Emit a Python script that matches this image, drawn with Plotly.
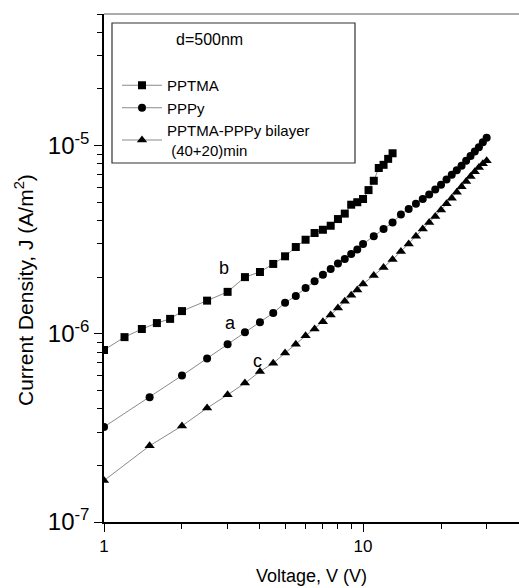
import plotly.graph_objects as go

FONT = "Liberation Sans, Arial, sans-serif"

# PPTMA (squares, curve b)
v_pptma = [1, 1.2, 1.4, 1.6, 1.8, 2.0, 2.5, 3.0, 3.5, 4.0, 4.5, 5.0, 5.5, 6.0, 6.5, 7.0,
           7.5, 8.0, 8.5, 9.0, 9.5, 10, 10.5, 11, 11.5, 12, 12.5, 13]
j_pptma = [0.82e-6, 0.96e-6, 1.06e-6, 1.14e-6, 1.20e-6, 1.32e-6, 1.50e-6, 1.67e-6, 2.00e-6,
           2.13e-6, 2.35e-6, 2.58e-6, 2.89e-6, 3.16e-6, 3.43e-6, 3.57e-6, 3.75e-6, 4.07e-6,
           4.35e-6, 4.85e-6, 5.00e-6, 5.20e-6, 5.80e-6, 6.50e-6, 7.60e-6, 7.90e-6, 8.50e-6, 9.10e-6]

# PPPy (circles, curve a)
v_pppy = [1, 1.5, 2, 2.5, 3, 3.5, 4, 4.5, 5, 5.5, 6, 6.5, 7, 7.5, 8, 8.5, 9, 9.5, 10,
          11, 12, 13, 14, 15, 16, 17, 18, 19, 20, 21, 22, 23, 24, 25, 26, 27, 28, 29, 30]
j_pppy = [0.32e-6, 0.46e-6, 0.60e-6, 0.74e-6, 0.88e-6, 1.02e-6, 1.15e-6, 1.29e-6, 1.46e-6,
          1.59e-6, 1.75e-6, 1.90e-6, 2.06e-6, 2.21e-6, 2.36e-6, 2.50e-6, 2.65e-6, 2.80e-6,
          3.00e-6, 3.30e-6, 3.60e-6, 3.90e-6, 4.30e-6, 4.60e-6, 4.90e-6, 5.20e-6, 5.50e-6,
          5.85e-6, 6.20e-6, 6.60e-6, 7.00e-6, 7.40e-6, 7.80e-6, 8.30e-6, 8.80e-6, 9.30e-6,
          9.80e-6, 10.4e-6, 11.0e-6]

# PPTMA-PPPy bilayer (triangles, curve c)
v_bi = [1, 1.5, 2, 2.5, 3, 3.5, 4, 4.5, 5, 5.5, 6, 6.5, 7, 7.5, 8, 8.5, 9, 9.5, 10,
        11, 12, 13, 14, 15, 16, 17, 18, 19, 20, 21, 22, 23, 24, 25, 26, 27, 28, 29, 30]
j_bi = [0.166e-6, 0.254e-6, 0.324e-6, 0.403e-6, 0.474e-6, 0.547e-6, 0.630e-6, 0.698e-6,
        0.79e-6, 0.88e-6, 0.976e-6, 1.06e-6, 1.16e-6, 1.26e-6, 1.37e-6, 1.49e-6, 1.60e-6,
        1.71e-6, 1.84e-6, 2.04e-6, 2.25e-6, 2.48e-6, 2.74e-6, 3.00e-6, 3.30e-6, 3.60e-6,
        3.90e-6, 4.20e-6, 4.55e-6, 4.90e-6, 5.25e-6, 5.65e-6, 6.05e-6, 6.45e-6, 6.85e-6,
        7.25e-6, 7.65e-6, 8.00e-6, 8.30e-6]

series_names = ["PPTMA", "PPPy", "PPTMA-PPPy bilayer<br> (40+20)min"]
x_ticks = [1, 10]
x_ticktext = ["1", "10"]
y_ticks = [1e-7, 1e-6, 1e-5]
y_ticktext = ["10<sup>-7</sup>", "10<sup>-6</sup>", "10<sup>-5</sup>"]

fig = go.Figure()
specs = [(v_pptma, j_pptma, "square", 8), (v_pppy, j_pppy, "circle", 8), (v_bi, j_bi, "triangle-up", 9)]
for (xs, ys, sym, sz), nm in zip(specs, series_names):
    fig.add_trace(go.Scatter(
        x=xs, y=ys, name=nm, mode="lines+markers",
        line=dict(color="#8a8a8a", width=1),
        marker=dict(symbol=sym, size=sz, color="black"),
    ))

L, R, T, B = 104, 0, 14, 66
W, H = 519, 588
pw, ph = W - L - R, H - T - B

def px(xp):
    return (xp - L) / pw

def py(yp):
    return 1 - (yp - T) / ph

fig.update_layout(
    width=W, height=H,
    margin=dict(l=L, r=R, t=T, b=B),
    paper_bgcolor="white", plot_bgcolor="white",
    font=dict(family=FONT, color="black"),
    showlegend=True,
    legend=dict(
        x=px(117), y=py(69), xanchor="left", yanchor="top",
        bgcolor="rgba(0,0,0,0)", borderwidth=0,
        font=dict(size=15, family=FONT), itemwidth=40,
        tracegroupgap=0,
    ),
    xaxis=dict(
        type="log", range=[0, 1.602],
        tickvals=x_ticks, ticktext=x_ticktext,
        ticks="outside", ticklen=8, tickwidth=1.3, tickcolor="black",
        showline=True, linecolor="black", linewidth=1.5,
        showgrid=False, zeroline=False,
        tickfont=dict(size=17, family=FONT),
        minor=dict(ticks="outside", ticklen=5, tickwidth=1.2, tickcolor="black",
                   dtick="D1", showgrid=False),
        title=dict(text="Voltage, V (V)", font=dict(size=18, family=FONT), standoff=14),
    ),
    yaxis=dict(
        type="log", range=[-7, -4.301],
        tickvals=y_ticks, ticktext=y_ticktext,
        ticks="outside", ticklen=8, tickwidth=1.3, tickcolor="black",
        showline=True, linecolor="black", linewidth=1.5,
        showgrid=False, zeroline=False,
        tickfont=dict(size=24, family=FONT),
        minor=dict(ticks="outside", ticklen=5, tickwidth=1.2, tickcolor="black",
                   dtick="D1", showgrid=False),
    ),
    shapes=[
        dict(type="line", xref="paper", yref="paper", x0=0, x1=1, y0=1, y1=1,
             line=dict(color="#909090", width=1.5)),
        dict(type="rect", xref="paper", yref="paper",
             x0=px(112), x1=px(355), y0=py(163), y1=py(23),
             line=dict(color="#333333", width=1.2), fillcolor="rgba(0,0,0,0)"),
    ],
    annotations=[
        dict(text="Current Density, J (A/m<sup>2</sup>)", xref="paper", yref="paper",
             x=px(24), y=py(290), textangle=-90, showarrow=False,
             xanchor="center", yanchor="middle", font=dict(size=21, family=FONT)),
        dict(text="d=500nm", xref="paper", yref="paper", x=px(209), y=py(39),
             showarrow=False, font=dict(size=16, family=FONT), xanchor="center", yanchor="middle"),
        dict(text="b", x=0.465, y=-5.649, xref="x", yref="y", showarrow=False,
             font=dict(size=18, family=FONT)),
        dict(text="a", x=0.488, y=-5.941, xref="x", yref="y", showarrow=False,
             font=dict(size=18, family=FONT)),
        dict(text="c", x=0.592, y=-6.144, xref="x", yref="y", showarrow=False,
             font=dict(size=18, family=FONT)),
    ],
)

fig.write_html("out.html")
